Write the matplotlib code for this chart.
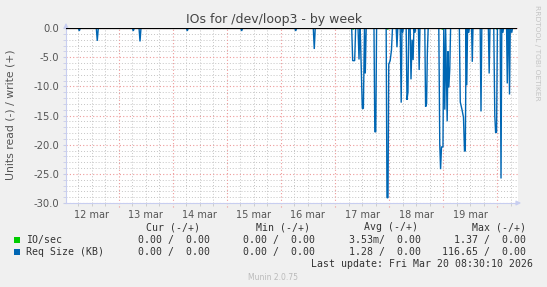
import matplotlib
matplotlib.use('Agg')
import matplotlib.pyplot as plt
from matplotlib.ticker import MultipleLocator, FixedLocator

# ---------------- data (days since 12 Mar 00:00) ----------------
day_labels = ["12 mar", "13 mar", "14 mar", "15 mar", "16 mar", "17 mar", "18 mar", "19 mar"]

read_days = [
    0.028,
    0.255, 0.274, 0.292,
    0.588, 0.606, 0.625,
    1.254, 1.272, 1.290,
    1.378, 1.396, 1.414,
    2.252, 2.270, 2.288,
    3.257, 3.275, 3.293,
    4.256, 4.274, 4.292,
    4.599, 4.617, 4.635,
    5.309, 5.327, 5.364, 5.382,
    5.426, 5.444, 5.460,
    5.466, 5.505, 5.525,
    5.545, 5.560, 5.577,
    5.721, 5.736, 5.754, 5.769,
    5.946, 5.961, 5.980, 5.994, 6.020, 6.044, 6.063,
    6.131, 6.146, 6.161,
    6.205, 6.224, 6.238,
    6.251, 6.264,
    6.316, 6.331, 6.349, 6.364,
    6.390, 6.405, 6.425, 6.444, 6.459,
    6.479, 6.490,
    6.542, 6.556, 6.571,
    6.660, 6.675, 6.693, 6.708, 6.723,
    6.919, 6.937, 6.952, 6.969, 6.996, 7.011,
    7.030, 7.045,
    7.074, 7.089, 7.104, 7.122, 7.137,
    7.299, 7.316, 7.348, 7.375, 7.394, 7.409, 7.425,
    7.436, 7.451,
    7.473, 7.484,
    7.525, 7.538, 7.551,
    7.684, 7.699, 7.714,
    7.835, 7.850, 7.865,
    7.935, 7.954, 7.969, 7.987, 8.002,
    8.054, 8.069, 8.083,
    8.104, 8.115,
    8.172, 8.185, 8.198,
    8.213, 8.226, 8.240,
    8.268, 8.281,
    8.340,
]
read_values = [
    0,
    0, -0.5, 0,
    0, -2.2, 0,
    0, -0.5, 0,
    0, -2.3, 0,
    0, -0.5, 0,
    0, -0.5, 0,
    0, -0.5, 0,
    0, -3.6, 0,
    0, -5.6, -5.6, 0,
    0, -5.4, 0,
    0, -13.8, -13.8,
    0, -7.8, 0,
    0, -17.8, -17.8, 0,
    0, -29.1, -29.1, -6.2, -5.6, -3.8, 0,
    0, -3.3, 0,
    0, -12.8, 0,
    -0.8, 0,
    0, -12.3, -11.0, 0,
    0, -8.8, -2.0, -5.5, 0,
    -0.8, 0,
    0, -7.2, 0,
    0, -13.5, -13.0, -4.0, 0,
    0, -20.0, -24.2, -20.4, -20.4, 0,
    -14.0, 0,
    -16.0, -4.0, -10.2, -7.0, 0,
    0, -12.7, -14.0, -15.3, -21.1, -21.1, 0,
    -9.8, 0,
    -0.8, 0,
    0, -5.8, 0,
    0, -14.3, 0,
    0, -7.8, 0,
    0, -15.0, -17.9, -17.9, 0,
    0, -25.8, 0,
    -0.8, 0,
    0, -9.5, 0,
    0, -11.4, 0,
    -0.8, 0,
    0,
]

io_days = [0.028, 5.315, 5.335, 5.355, 5.955, 5.975, 5.995,
           6.965, 6.985, 7.005, 7.975, 7.995, 8.015, 8.340]
io_values = [0, 0, -0.2, 0, 0, -0.2, 0, 0, -0.2, 0, 0, -0.2, 0, 0]

legend_names = ["IO/sec", "Req Size (KB)"]
legend_colors = ["#00CC00", "#0066B3"]
cur_vals = ["0.00 /  0.00", "0.00 /  0.00"]
min_vals = ["0.00 /  0.00", "0.00 /  0.00"]
avg_vals = ["3.53m/  0.00", "1.28 /  0.00"]
max_vals = ["1.37 /  0.00", "116.65 /  0.00"]

assert len(read_days) == len(read_values)

# ---------------- figure ----------------
W, H = 547, 287
fig = plt.figure(figsize=(W / 100, H / 100), dpi=100, facecolor='#F0F0F0')
ax = fig.add_axes([66 / W, 1 - 203 / H, 452 / W, 175 / H])
ax.set_facecolor('white')

x0, x1 = 0.028, 8.383
ax.set_xlim(x0, x1)
ax.set_ylim(-30, 0)

red = '#EE9A9A'
grey = '#C4C4C4'
dot = (0, (1, 2))

# y grid
ax.yaxis.set_major_locator(MultipleLocator(5))
ax.yaxis.set_minor_locator(MultipleLocator(1))
ax.grid(which='major', axis='y', color=red, ls=dot, lw=0.8)
ax.grid(which='minor', axis='y', color=grey, ls=dot, lw=0.7)
ax.set_yticklabels([f"{v:.1f}" for v in ax.get_yticks()])

# x grid: grey every 6 h (except midnight), red at midnight
n_days = len(day_labels)
quarters = [d + q for d in range(n_days + 1) for q in (0.25, 0.5, 0.75)]
ax.xaxis.remove_overlapping_locs = False
ax.xaxis.set_minor_locator(FixedLocator(quarters))
ax.grid(which='minor', axis='x', color=grey, ls=dot, lw=0.7)
ax.xaxis.set_major_locator(FixedLocator([i + 0.5 for i in range(n_days)]))
ax.set_xticklabels(day_labels)
for d in range(1, n_days + 1):
    ax.axvline(d, ymin=-0.02, ymax=1, color=red, ls=dot, lw=0.8, zorder=1, clip_on=False)
ax.set_axisbelow(True)

tick_col = '#555555'
ax.tick_params(axis='x', which='major', length=0, labelsize=7, labelcolor=tick_col, pad=5)
ax.tick_params(axis='x', which='minor', length=2, color='#C8C8C8')
ax.tick_params(axis='y', which='both', length=2, color='#C8CCE8', labelsize=7.2,
               labelcolor=tick_col, pad=3)

for s in ['top', 'right']:
    ax.spines[s].set_visible(False)
axis_col = '#C8CEF0'
for s in ['left', 'bottom']:
    ax.spines[s].set_color(axis_col)
    ax.spines[s].set_linewidth(0.8)

# arrows
ax.annotate('', xy=(0, 1.045), xytext=(0, 0.98), xycoords='axes fraction',
            arrowprops=dict(arrowstyle='-|>', color=axis_col, lw=0.8, mutation_scale=7),
            annotation_clip=False)
ax.annotate('', xy=(1.013, 0), xytext=(0.99, 0), xycoords='axes fraction',
            arrowprops=dict(arrowstyle='-|>', color=axis_col, lw=0.8, mutation_scale=7),
            annotation_clip=False)

# series
ax.plot(io_days, io_values, color=legend_colors[0], lw=1.0, zorder=3)
ax.plot(read_days, read_values, color=legend_colors[1], lw=1.0, zorder=4,
        solid_joinstyle='miter')
ax.axhline(0, xmin=0, xmax=(read_days[-1] - x0) / (x1 - x0), color='black', lw=0.9, zorder=5)

# labels
fig.text(274 / W, 1 - 19 / H, "IOs for /dev/loop3 - by week", ha='center', va='center',
         fontsize=9, color='#444444')
fig.text(11 / W, 1 - 115 / H, "Units read (-) / write (+)", rotation=90, ha='center',
         va='center', fontsize=7.8, color='#555555')
fig.text(537 / W, 1 - 53 / H, "RRDTOOL / TOBI OETIKER", rotation=270, ha='center',
         va='center', fontsize=5.4, color='#C4C4C4')

mono = 'DejaVu Sans Mono'
lc = '#333333'
fs = 7.1


def ty(y):
    return 1 - y / H


for hx, ht in [(146.5, "Cur (-/+)"), (255.5, "Min (-/+)"), (364, "Avg (-/+)"), (472.5, "Max (-/+)")]:
    fig.text(hx / W, ty(227), ht, ha='left', va='center', fontsize=fs, family=mono, color=lc)

rows_y = [240, 252]
for i, name in enumerate(legend_names):
    y = rows_y[i]
    fig.patches.append(plt.Rectangle((13.5 / W, ty(y + 3)), 6 / W, 6 / H, transform=fig.transFigure,
                                     facecolor=legend_colors[i], edgecolor='none'))
    fig.text(26 / W, ty(y), name, ha='left', va='center', fontsize=fs, family=mono, color=lc)
    fig.text(209.5 / W, ty(y), cur_vals[i], ha='right', va='center', fontsize=fs, family=mono, color=lc)
    fig.text(315 / W, ty(y), min_vals[i], ha='right', va='center', fontsize=fs, family=mono, color=lc)
    fig.text(421 / W, ty(y), avg_vals[i], ha='right', va='center', fontsize=fs, family=mono, color=lc)
    fig.text(526.5 / W, ty(y), max_vals[i], ha='right', va='center', fontsize=fs, family=mono, color=lc)

fig.text(533 / W, ty(264), "Last update: Fri Mar 20 08:30:10 2026", ha='right', va='center',
         fontsize=fs, family=mono, color=lc)
fig.text(273 / W, ty(277), "Munin 2.0.75", ha='center', va='center', fontsize=5.5, color='#BBBBBB')

fig.savefig('out.png', dpi=100, facecolor=fig.get_facecolor())
